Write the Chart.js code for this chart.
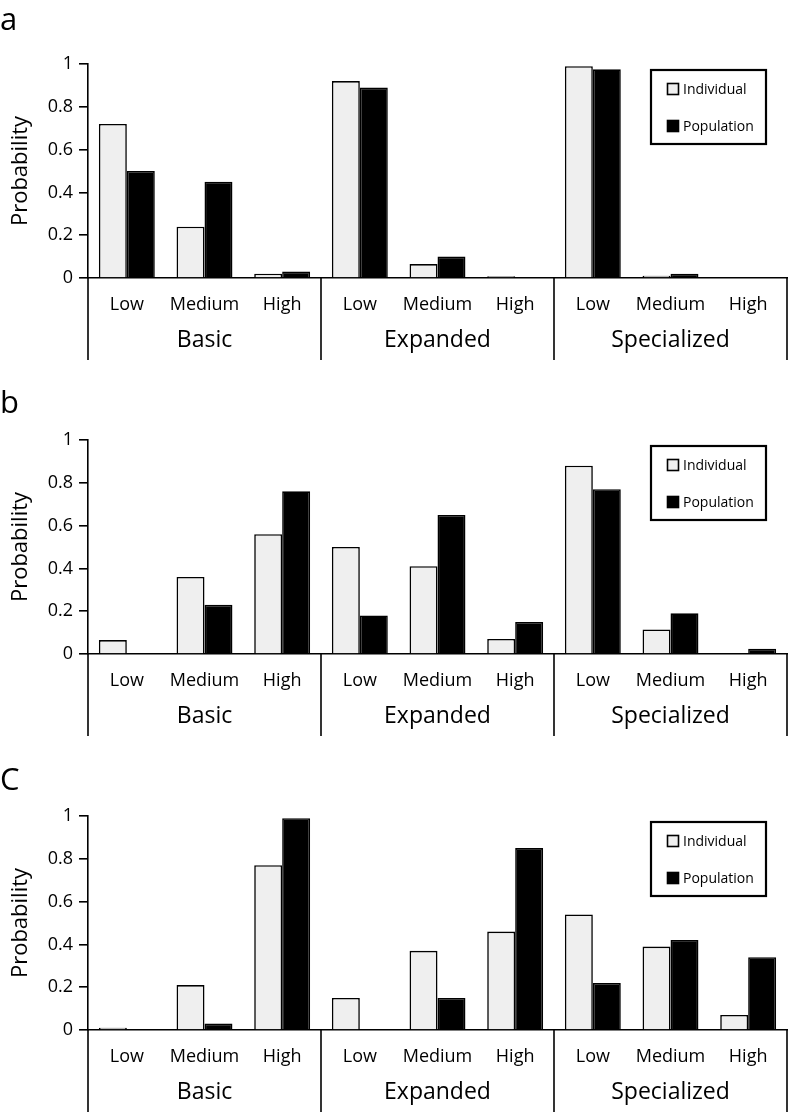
<!DOCTYPE html>
<html>
<head>
<meta charset="utf-8">
<script src="https://cdn.jsdelivr.net/npm/chart.js@4/dist/chart.umd.min.js"></script>
<style>
  html, body { margin: 0; padding: 0; background: #fff; overflow: hidden; }
  .panel { position: absolute; left: 0; width: 790px; height: 376px; }
</style>
</head>
<body>
<div class="panel" style="top:0"><canvas id="panelA" width="790" height="376"></canvas></div>
<div class="panel" style="top:376px"><canvas id="panelB" width="790" height="376"></canvas></div>
<div class="panel" style="top:752px"><canvas id="panelC" width="790" height="376"></canvas></div>
<script>
// categories and groups
const categories = ["Low", "Medium", "High", "Low", "Medium", "High", "Low", "Medium", "High"];
const groups = ["Basic", "Expanded", "Specialized"];
const seriesNames = ["Individual", "Population"];
const yTicks = [0, 0.2, 0.4, 0.6, 0.8, 1];
const panelLetters = ["a", "b", "C"];

// values
const individualA = [0.72, 0.24, 0.02, 0.92, 0.065, 0.008, 0.99, 0.01, 0];
const populationA = [0.50, 0.45, 0.03, 0.89, 0.10, 0, 0.975, 0.02, 0];
const individualB = [0.065, 0.36, 0.56, 0.50, 0.41, 0.07, 0.88, 0.115, 0];
const populationB = [0, 0.23, 0.76, 0.18, 0.65, 0.15, 0.77, 0.19, 0.025];
const individualC = [0.01, 0.21, 0.77, 0.15, 0.37, 0.46, 0.54, 0.39, 0.07];
const populationC = [0, 0.03, 0.99, 0, 0.15, 0.85, 0.22, 0.42, 0.34];

const FONT = "'Open Sans', 'DejaVu Sans', sans-serif";
const INK = "#000";
const LIGHT = "#efefef";
const LW = 1.6;

// group labels, separators, long axis lines, legend box, panel letter
const decorPlugin = {
  id: "decor",
  afterDraw(chart, args, opts) {
    const ctx = chart.ctx;
    const area = chart.chartArea;
    const x = chart.scales.x;
    const lineBottom = 360;
    ctx.save();
    ctx.strokeStyle = INK;
    ctx.lineWidth = LW;

    // vertical lines under the axis
    const seps = [area.left];
    for (let g = 1; g < groups.length; g++) {
      seps.push((x.getPixelForValue(g * 3 - 1) + x.getPixelForValue(g * 3)) / 2);
    }
    seps.push(area.right);
    seps.forEach((sx) => {
      ctx.beginPath();
      ctx.moveTo(sx, area.bottom);
      ctx.lineTo(sx, lineBottom);
      ctx.stroke();
    });

    // group names
    ctx.fillStyle = INK;
    ctx.font = "23px " + FONT;
    ctx.textAlign = "center";
    ctx.textBaseline = "middle";
    groups.forEach((name, g) => {
      const cx = (x.getPixelForValue(g * 3) + x.getPixelForValue(g * 3 + 2)) / 2;
      ctx.fillText(name, cx, 340);
    });

    // legend box
    ctx.lineWidth = 2.2;
    ctx.strokeRect(651, 70, 115, 74);
    ctx.font = "14px " + FONT;
    ctx.textAlign = "left";
    const rows = [89, 126];
    chart.data.datasets.forEach((ds, i) => {
      ctx.fillStyle = ds.backgroundColor;
      ctx.fillRect(667, rows[i] - 6, 12, 12);
      ctx.lineWidth = LW;
      ctx.strokeStyle = INK;
      ctx.strokeRect(667.5, rows[i] - 5.5, 11, 11);
      ctx.fillStyle = INK;
      ctx.fillText(ds.label, 683, rows[i] + 1);
    });

    // panel letter
    ctx.font = "31px " + FONT;
    ctx.textBaseline = "alphabetic";
    ctx.fillText(opts.letter, 0, opts.letterY);
    ctx.restore();
  }
};

function makePanel(canvasId, letter, letterY, individual, population) {
  const canvas = document.getElementById(canvasId);
  if (!canvas) return;
  new Chart(canvas, {
    type: "bar",
    data: {
      labels: categories,
      datasets: [
        {
          label: seriesNames[0],
          data: individual,
          backgroundColor: LIGHT,
          borderColor: INK,
          borderWidth: LW,
          categoryPercentage: 0.72,
          barPercentage: 1.0
        },
        {
          label: seriesNames[1],
          data: population,
          backgroundColor: INK,
          borderColor: INK,
          borderWidth: LW,
          categoryPercentage: 0.72,
          barPercentage: 1.0
        }
      ]
    },
    options: {
      responsive: false,
      animation: false,
      layout: { padding: { top: 64, right: 3, left: 0, bottom: 0 } },
      plugins: {
        legend: { display: false },
        tooltip: { enabled: false },
        decor: { letter: letter, letterY: letterY }
      },
      scales: {
        x: {
          grid: { display: false, drawTicks: false },
          border: { display: true, color: INK, width: LW },
          ticks: { color: INK, padding: 16, font: { family: FONT, size: 18 }, maxRotation: 0, autoSkip: false },
          afterFit(scale) { scale.height = 98; }
        },
        y: {
          min: 0,
          max: 1,
          afterBuildTicks(scale) { scale.ticks = yTicks.map((v) => ({ value: v })); },
          grid: { drawOnChartArea: false, drawTicks: true, tickLength: 9, color: INK, lineWidth: LW },
          border: { display: true, color: INK, width: LW },
          ticks: {
            color: INK,
            padding: 6,
            font: { family: FONT, size: 18 },
            callback: (v) => String(+Number(v).toFixed(1))
          },
          title: {
            display: true,
            text: "Probability",
            color: INK,
            font: { family: FONT, size: 22 },
            padding: { top: 8, bottom: 0 }
          },
          afterFit(scale) { scale.width = 88; }
        }
      }
    },
    plugins: [decorPlugin]
  });
}

makePanel("panelA", panelLetters[0], 30, individualA, populationA);
makePanel("panelB", panelLetters[1], 37, individualB, populationB);
makePanel("panelC", panelLetters[2], 38, individualC, populationC);
</script>
</body>
</html>
